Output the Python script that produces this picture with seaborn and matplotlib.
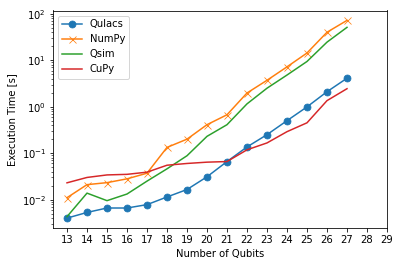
import matplotlib
matplotlib.use("Agg")
import matplotlib.pyplot as plt
import seaborn as sns
import pandas as pd

qubits = list(range(13, 28))
qulacs = [0.0040, 0.0053, 0.0066, 0.0066, 0.0078, 0.0114, 0.0165, 0.031, 0.066, 0.136, 0.25, 0.50, 0.99, 2.1, 4.1]
numpy_t = [0.011, 0.021, 0.0232, 0.028, 0.037, 0.133, 0.20, 0.41, 0.67, 1.97, 3.7, 7.2, 14.3, 40.0, 72.0]
qsim = [0.0043, 0.0138, 0.0095, 0.0132, 0.025, 0.046, 0.088, 0.23, 0.41, 1.15, 2.5, 4.8, 9.4, 24.5, 51.0]
cupy = [0.023, 0.030, 0.034, 0.035, 0.039, 0.055, 0.060, 0.064, 0.066, 0.118, 0.166, 0.29, 0.45, 1.35, 2.44]
x_ticks = list(range(13, 30))

series = {"Qulacs": qulacs, "NumPy": numpy_t, "Qsim": qsim, "CuPy": cupy}
markers = {"Qulacs": "o", "NumPy": "x", "Qsim": None, "CuPy": None}
colors = {"Qulacs": "#1f77b4", "NumPy": "#ff7f0e", "Qsim": "#2ca02c", "CuPy": "#d62728"}

rows = []
for name, vals in series.items():
    for q, v in zip(qubits, vals):
        rows.append({"Qubits": q, "Time": v, "Simulator": name})
df = pd.DataFrame(rows)

fig = plt.figure(figsize=(401 / 72, 266 / 72), dpi=72)
ax = fig.add_axes([53 / 401, 1 - 228 / 266, (387 - 53) / 401, (228 - 10.5) / 266])

for name in series:
    sub = df[df["Simulator"] == name]
    kw = {}
    if markers[name]:
        kw["marker"] = markers[name]
        kw["markersize"] = 7
        kw["markeredgecolor"] = colors[name]
    sns.lineplot(data=sub, x="Qubits", y="Time", ax=ax, color=colors[name],
                 label=name, linewidth=1.5, **kw)

ax.set_yscale("log")
ax.set_xticks(x_ticks)
ax.set_xlabel("Number of Qubits", fontsize=10)
ax.set_ylabel("Execution Time [s]", fontsize=10)
ax.tick_params(labelsize=10)
ax.legend(loc="upper left", fontsize=10)

fig.savefig("out.png", dpi=72)
